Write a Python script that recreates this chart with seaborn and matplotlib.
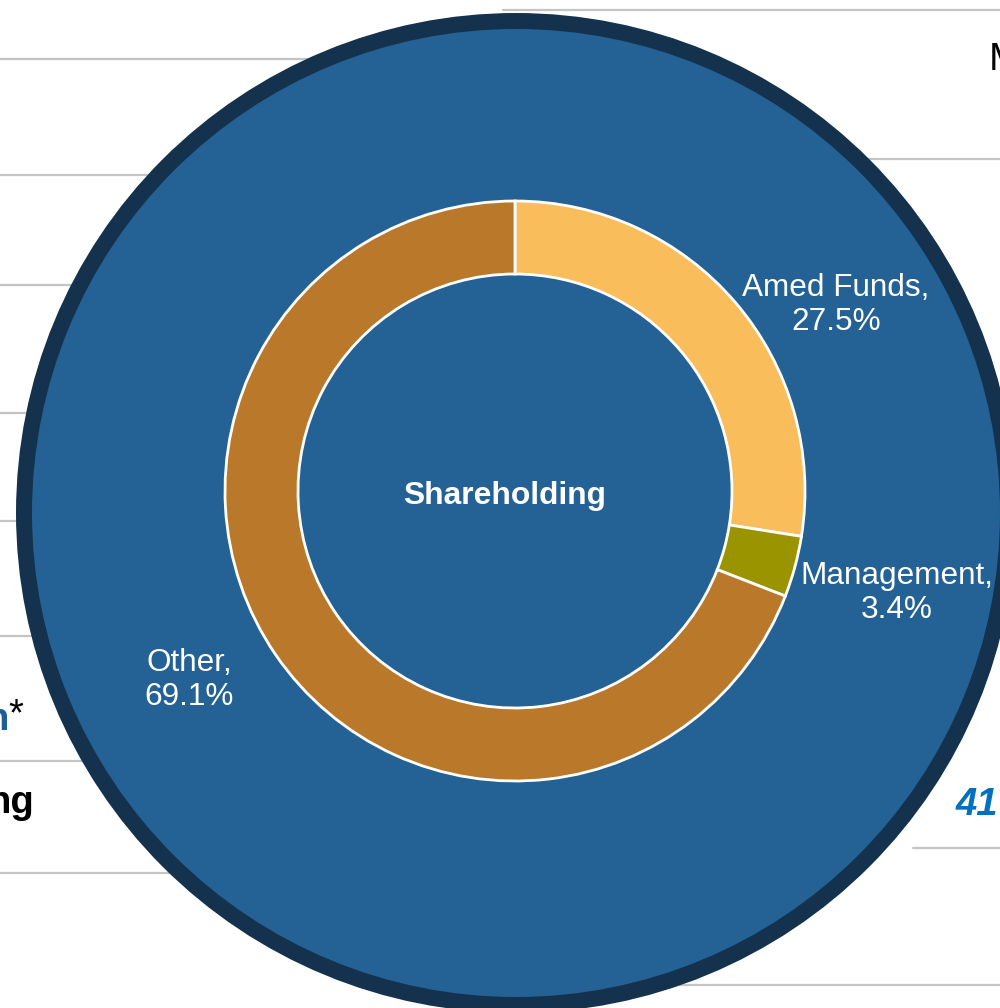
import matplotlib
matplotlib.use("Agg")
import matplotlib.pyplot as plt
from matplotlib.patches import Circle
import seaborn as sns

# ---- data ----
segments = ["Amed Funds", "Management", "Other"]
shares = [27.5, 3.4, 69.1]
center_title = "Shareholding"
left_fragments = ["n", "*", "ng"]
right_fragments = ["M", "41"]

sns.set_theme(style="white")
plt.rcParams['font.family'] = ['Liberation Sans', 'DejaVu Sans']

seg_colors = sns.color_palette(["#fabd5c", "#999400", "#ba782a"])
BIG_FILL = "#246194"
BIG_EDGE = "#14314d"
GRID = "#c4c4c4"

W, H = 1000, 1008
fig = plt.figure(figsize=(W / 100, H / 100), dpi=100)
ax = fig.add_axes([0, 0, 1, 1])
ax.set_xlim(0, W)
ax.set_ylim(0, H)
ax.set_aspect("equal")
ax.axis("off")


def Y(y):
    return H - y


# background horizontal rules
for y in [59, 175, 285, 413, 521, 636, 761, 873]:
    ax.plot([0, 520], [Y(y), Y(y)], color=GRID, lw=1.6, zorder=1)
for y, x0 in [(10, 503), (159, 700), (848, 913), (985, 600)]:
    ax.plot([x0, W], [Y(y), Y(y)], color=GRID, lw=1.6, zorder=1)

# big circle
ax.add_patch(Circle((516, Y(513)), 492, facecolor=BIG_FILL, edgecolor=BIG_EDGE,
                    lw=11.5, zorder=2))

# donut
wedges, _ = ax.pie(shares, colors=seg_colors, startangle=90, counterclock=False,
                   center=(515, Y(491)), radius=290, frame=True,
                   wedgeprops=dict(width=73, edgecolor="white", linewidth=2.0))
for w in wedges:
    w.set_zorder(3)
ax.set_xlim(0, W)
ax.set_ylim(0, H)
ax.axis("off")

# segment labels
label_pos = [(836, 305), (897, 593), (189, 680)]
for name, val, (x, y) in zip(segments, shares, label_pos):
    ax.text(x, Y(y), f"{name},\n{val:.1f}%", color="white", fontsize=22.7,
            ha="center", va="center", linespacing=1.18, zorder=4)

ax.text(505, Y(496), center_title, color="white", fontsize=22.9, fontweight="bold",
        ha="center", va="center", zorder=4)

# cropped side texts
ax.text(9, Y(720), left_fragments[0], color="#1f5d9a", fontsize=27.5, fontweight="bold",
        ha="right", va="center", zorder=4)
ax.text(8, Y(715), left_fragments[1], color="black", fontsize=27.5,
        ha="left", va="center", zorder=4)
ax.text(34, Y(803), left_fragments[2], color="black", fontsize=27.5, fontweight="bold",
        ha="right", va="center", zorder=4)
ax.text(989, Y(60), right_fragments[0], color="black", fontsize=28,
        ha="left", va="center", zorder=4)
ax.text(956, Y(805), right_fragments[1], color="#0070c0", fontsize=27.5, fontweight="bold",
        style="italic", ha="left", va="center", zorder=4)

fig.savefig("out.png", dpi=100)
